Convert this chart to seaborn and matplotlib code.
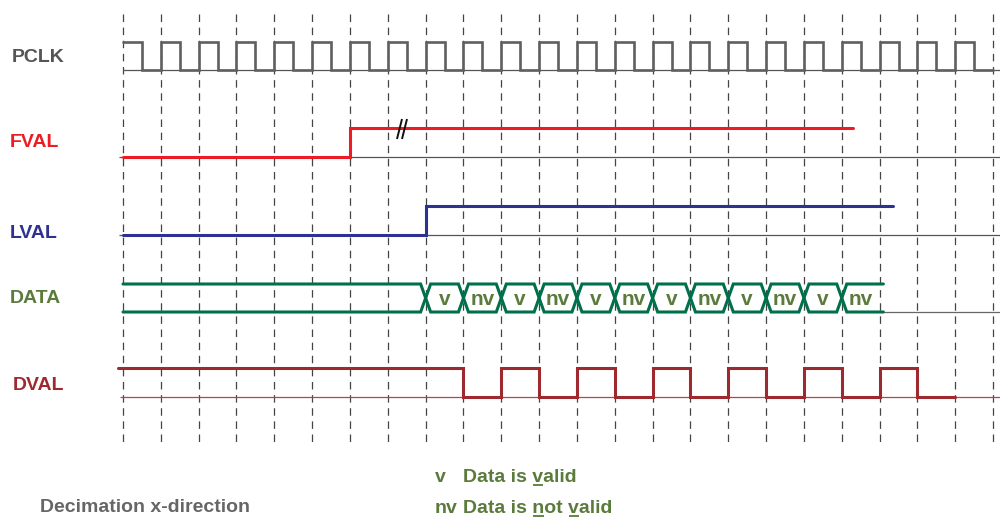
import matplotlib
matplotlib.use("Agg")
import matplotlib.pyplot as plt
import seaborn as sns
import pandas as pd

# ---- data (time in clock periods) -------------------------------------
n_grid = 24  # dashed clock lines at t = 0 .. 23

# one character per half clock period, "1" = high, "0" = low
pclk_wave = "1010101010101010101010101010101010101010101010"

# edge times and the level after each edge
fval_times = [0, 6, 19.3]
fval_levels = [0, 1, 1]
lval_times = [0, 8, 20.35]
lval_levels = [0, 1, 1]

# DATA bus: idle until data_start, then one word per clock period
data_start = 8
data_end = 20.1
data_words = ["v", "nv", "v", "nv", "v", "nv", "v", "nv", "v", "nv", "v", "nv"]

# DVAL: one character per clock period
dval_wave = "1111111110101010101010"
dval_start = -0.13

signal_names = ["PCLK", "FVAL", "LVAL", "DATA", "DVAL"]
# (abbreviation, description, indices of underlined letters in description)
legend_rows = [("v", "Data is valid", [8]), ("nv", "Data is not valid", [8, 12])]
footer = "Decimation x-direction"

# ---- layout (pixel units, figure is 1000 x 520) ---------------------------
X0, DX = 123.0, 37.83          # pixel x of t=0 and of one clock period
ROWS = {                        # (high y, low y)
    "PCLK": (42, 70),
    "FVAL": (128, 157),
    "LVAL": (206, 235),
    "DATA": (284, 312),
    "DVAL": (368, 397),
}
COLORS = {
    "PCLK": "#5f5f5f",
    "FVAL": "#ed1c24",
    "LVAL": "#2e3192",
    "DATA": "#00704a",
    "DVAL": "#9e2a2f",
}
LABEL_COLORS = {
    "PCLK": "#555555",
    "FVAL": "#ed1c24",
    "LVAL": "#2e3192",
    "DATA": "#5b7b3c",
    "DVAL": "#9e2a2f",
}
LABEL_POS = {"PCLK": (12, 62), "FVAL": (10, 147), "LVAL": (10, 238),
             "DATA": (10, 303), "DVAL": (13, 390)}
GREEN_TXT = "#5b7b3c"


def t_of(px):
    return (px - X0) / DX


def level_y(name, level):
    hi, lo = ROWS[name]
    return lo - level * (lo - hi)


def wave_steps(wave, step):
    times = [i * step for i in range(len(wave) + 1)]
    levels = [int(c) for c in wave] + [int(wave[-1])]
    return times, levels


def step_line(ax, name, times, levels, lw):
    df = pd.DataFrame({"t": times, "y": [level_y(name, v) for v in levels]})
    sns.lineplot(data=df, x="t", y="y", ax=ax, estimator=None, sort=False,
                 drawstyle="steps-post", color=COLORS[name], linewidth=lw,
                 solid_joinstyle="miter", zorder=4)


sns.set_style("white")
plt.rcParams["font.family"] = ["Liberation Sans", "DejaVu Sans"]

fig = plt.figure(figsize=(10, 5.2), dpi=100)
ax = fig.add_axes([0, 0, 1, 1])
ax.set_xlim(t_of(0), t_of(1000))
ax.set_ylim(520, 0)
ax.axis("off")

# dashed clock grid
ax.vlines(range(n_grid), 14, 442, colors="#444444", linewidth=0.9,
          linestyles=(0, (6, 4.5)), zorder=1)

# thin baselines
base_kw = dict(linewidth=0.9, zorder=2)
ax.hlines(ROWS["PCLK"][1], t_of(123), t_of(1000), colors="#555555", **base_kw)
ax.hlines(ROWS["FVAL"][1], t_of(119), t_of(1000), colors="#555555", **base_kw)
ax.hlines(ROWS["LVAL"][1], t_of(119), t_of(1000), colors="#555555", **base_kw)
ax.hlines(ROWS["DATA"][1], data_end, t_of(1000), colors="#666666", **base_kw)
ax.hlines(ROWS["DVAL"][1], t_of(120), t_of(1000), colors="#b5474b", **base_kw)

# PCLK
t, v = wave_steps(pclk_wave, 0.5)
step_line(ax, "PCLK", t, v, 1.9)

# FVAL with break mark
step_line(ax, "FVAL", fval_times, fval_levels, 2.2)
bx = t_of(397)
for off in (0, 5):
    ax.plot([bx + off / DX, bx + (off + 5) / DX], [139, 119], color="#111111",
            linewidth=1.4, zorder=5, solid_capstyle="butt")

# LVAL
step_line(ax, "LVAL", lval_times, lval_levels, 2.2)

# DATA bus: two polylines that swap level at every word boundary
d = 5 / DX
top, bot = ROWS["DATA"]
rows = []
for line, start in (("a", top), ("b", bot)):
    cur, other = start, (bot if start == top else top)
    pts = [(0, cur)]
    for i in range(len(data_words)):
        b = data_start + i
        pts += [(b - d, cur), (b + d, other)]
        cur, other = other, cur
    pts.append((data_end, cur))
    rows += [{"t": p[0], "y": p[1], "line": line} for p in pts]
ddf = pd.DataFrame(rows)
sns.lineplot(data=ddf, x="t", y="y", units="line", estimator=None, sort=False,
             color=COLORS["DATA"], linewidth=2.2, ax=ax, zorder=4,
             solid_joinstyle="miter", legend=False)
for i, w in enumerate(data_words):
    right = min(data_start + i + 1, data_end)
    ax.text((data_start + i + right) / 2, 305, w, ha="center", va="baseline",
            fontsize=15, fontweight="bold", color=GREEN_TXT, zorder=6)

# DVAL
t, v = wave_steps(dval_wave, 1)
t[0] = dval_start
step_line(ax, "DVAL", t, v, 2.2)

# signal labels
for name in signal_names:
    x, y = LABEL_POS[name]
    ax.text(t_of(x), y, name, ha="left", va="baseline", fontsize=14,
            fontweight="bold", color=LABEL_COLORS[name])

# legend text with underlined letters
fig.canvas.draw()
renderer = fig.canvas.get_renderer()
txt_kw = dict(fontsize=14, fontweight="bold", color=GREEN_TXT, va="baseline")


def text_width(s):
    tmp = ax.text(0, 0, s.replace(" ", "\u00a0"), **txt_kw)
    w = tmp.get_window_extent(renderer).width
    tmp.remove()
    return w


abbr_x = 435
desc_col = abbr_x + max(text_width(a + " ") for a, _, _ in legend_rows)
for (abbr, desc, under), base in zip(legend_rows, (482, 513)):
    ax.text(t_of(abbr_x), base, abbr, **txt_kw)
    ax.text(t_of(desc_col), base, desc, **txt_kw)
    for idx in under:
        x1 = desc_col + text_width(desc[:idx])
        x2 = desc_col + text_width(desc[:idx + 1])
        ax.hlines(base + 3, t_of(x1 + 0.5), t_of(x2 - 0.5), colors=GREEN_TXT,
                  linewidth=1.3)

ax.text(t_of(40), 512, footer, ha="left", va="baseline", fontsize=14,
        fontweight="bold", color="#666666")

fig.savefig("out.png", dpi=100)
